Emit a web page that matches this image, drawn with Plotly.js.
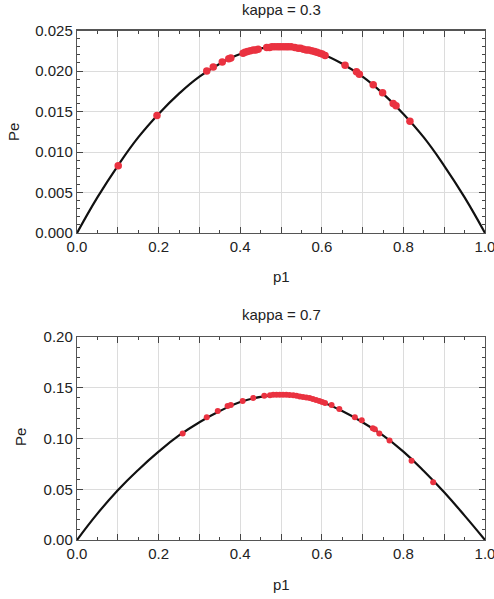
<!DOCTYPE html>
<html>
<head>
<meta charset="utf-8">
<script src="https://cdn.plot.ly/plotly-3.0.1.min.js"></script>
<style>html,body{margin:0;padding:0;background:#fff;}#chart{width:494px;height:599px;}</style>
</head>
<body>
<div id="chart"></div>
<script>
// Curve samples
const p1Curve = [0,0.05,0.1,0.15,0.2,0.25,0.3,0.35,0.4,0.45,0.5,0.55,0.6,0.65,0.7,0.75,0.8,0.85,0.9,0.95,1];
const peCurve03 = [0,0.0044,0.0083,0.0118,0.0147,0.0172,0.0193,0.0209,0.0221,0.0228,0.0230,0.0228,0.0221,0.0209,0.0193,0.0172,0.0147,0.0118,0.0083,0.0044,0];
const peCurve07 = [0,0.026,0.049,0.069,0.087,0.103,0.116,0.127,0.136,0.141,0.143,0.141,0.136,0.127,0.116,0.103,0.087,0.068,0.047,0.024,0];

// Sample points kappa = 0.3
const p1Pts03 = [0.101,0.196,0.318,0.334,0.356,0.372,0.377,0.407,0.412,0.418,0.425,0.432,0.438,0.444,0.465,0.472,0.478,0.485,0.492,0.498,0.505,0.512,0.518,0.525,0.534,0.542,0.548,0.555,0.562,0.568,0.575,0.582,0.588,0.595,0.601,0.608,0.657,0.685,0.692,0.726,0.749,0.775,0.782,0.816];
const pePts03 = [0.0083,0.0145,0.0200,0.0205,0.0211,0.0215,0.0216,0.0222,0.0223,0.0224,0.0225,0.0226,0.0226,0.0227,0.0229,0.0229,0.0230,0.0230,0.0230,0.0230,0.0230,0.0230,0.0230,0.0230,0.0229,0.0228,0.0228,0.0227,0.0226,0.0226,0.0225,0.0224,0.0223,0.0222,0.0221,0.0219,0.0207,0.0199,0.0196,0.0183,0.0173,0.0160,0.0157,0.0138];

// Sample points kappa = 0.7
const p1Pts07 = [0.259,0.318,0.345,0.369,0.377,0.406,0.432,0.459,0.473,0.481,0.489,0.497,0.505,0.513,0.521,0.53,0.538,0.546,0.554,0.562,0.57,0.578,0.586,0.594,0.601,0.608,0.624,0.643,0.681,0.698,0.725,0.73,0.741,0.766,0.82,0.873];
const pePts07 = [0.105,0.121,0.127,0.132,0.133,0.137,0.140,0.142,0.1425,0.143,0.143,0.143,0.143,0.143,0.1428,0.1425,0.142,0.1415,0.141,0.1405,0.140,0.139,0.138,0.137,0.136,0.135,0.133,0.129,0.121,0.118,0.110,0.109,0.105,0.098,0.078,0.057];

const xTickVals = [0,0.1,0.2,0.3,0.4,0.5,0.6,0.7,0.8,0.9,1.0];
const xTickText = ['0.0','','0.2','','0.4','','0.6','','0.8','','1.0'];
const yTickVals03 = [0,0.005,0.01,0.015,0.02,0.025];
const yTickText03 = ['0.000','0.005','0.010','0.015','0.020','0.025'];
const yTickVals07 = [0,0.05,0.1,0.15,0.2];
const yTickText07 = ['0.00','0.05','0.10','0.15','0.20'];
const titles = ['kappa = 0.3','kappa = 0.7'];
const xLabel = 'p1';
const yLabel = 'Pe';

const red = 'rgb(234,50,64)';
const font = {family:'Liberation Sans, Arial, sans-serif', size:15, color:'#222'};

const traces = [
  {x:p1Curve, y:peCurve03, mode:'lines', line:{color:'#111', width:2.2, shape:'spline', smoothing:1.3}, xaxis:'x', yaxis:'y', hoverinfo:'skip'},
  {x:p1Pts03, y:pePts03, mode:'markers', marker:{color:red, size:7.5}, xaxis:'x', yaxis:'y'},
  {x:p1Curve, y:peCurve07, mode:'lines', line:{color:'#111', width:2.2, shape:'spline', smoothing:1.3}, xaxis:'x2', yaxis:'y2', hoverinfo:'skip'},
  {x:p1Pts07, y:pePts07, mode:'markers', marker:{color:red, size:6}, xaxis:'x2', yaxis:'y2'}
];

function xAxis(domAnchor){
  return {
    domain:[77/494, 485/494], anchor:domAnchor, range:[0,1],
    tickmode:'array', tickvals:xTickVals, ticktext:xTickText,
    ticks:'inside', ticklen:6, tickcolor:'#444', tickwidth:1,
    showline:true, linecolor:'#555', linewidth:1.2, mirror:'ticks',
    showgrid:true, gridcolor:'#dcdcdc', gridwidth:1, zeroline:false,
    minor:{dtick:0.05, tick0:0, ticks:'inside', ticklen:3, tickcolor:'#444', showgrid:false},
    tickfont:font, ticklabeloverflow:'allow', fixedrange:true
  };
}
function yAxis(domAnchor, dom, rng, vals, text, minorStep){
  return {
    domain:dom, anchor:domAnchor, range:rng,
    tickmode:'array', tickvals:vals, ticktext:text,
    ticks:'inside', ticklen:6, tickcolor:'#444', tickwidth:1,
    showline:true, linecolor:'#555', linewidth:1.2, mirror:'ticks',
    showgrid:true, gridcolor:'#dcdcdc', gridwidth:1, zeroline:false,
    minor:{dtick:minorStep, tick0:0, ticks:'inside', ticklen:3, tickcolor:'#444', showgrid:false},
    tickfont:font, ticklabeloverflow:'allow', fixedrange:true
  };
}

const layout = {
  width:494, height:599,
  margin:{l:0, r:0, t:0, b:0},
  paper_bgcolor:'#fff', plot_bgcolor:'#fff',
  showlegend:false,
  font:font,
  xaxis:xAxis('y'),
  yaxis:yAxis('x', [1-233/599, 1-30.5/599], [0,0.025], yTickVals03, yTickText03, 0.001),
  xaxis2:xAxis('y2'),
  yaxis2:yAxis('x2', [1-540/599, 1-337/599], [0,0.2], yTickVals07, yTickText07, 0.01),
  annotations:[
    {text:titles[0], x:281/494, y:1-9/599, xref:'paper', yref:'paper', showarrow:false, xanchor:'center', yanchor:'middle', font:font},
    {text:titles[1], x:281/494, y:1-314/599, xref:'paper', yref:'paper', showarrow:false, xanchor:'center', yanchor:'middle', font:font},
    {text:xLabel, x:281/494, y:1-277/599, xref:'paper', yref:'paper', showarrow:false, xanchor:'center', yanchor:'middle', font:font},
    {text:xLabel, x:281/494, y:1-584/599, xref:'paper', yref:'paper', showarrow:false, xanchor:'center', yanchor:'middle', font:font},
    {text:yLabel, x:13/494, y:1-132/599, xref:'paper', yref:'paper', showarrow:false, xanchor:'center', yanchor:'middle', textangle:-90, font:font},
    {text:yLabel, x:20/494, y:1-437/599, xref:'paper', yref:'paper', showarrow:false, xanchor:'center', yanchor:'middle', textangle:-90, font:font}
  ]
};

Plotly.newPlot('chart', traces, layout, {staticPlot:true, displayModeBar:false});
</script>
</body>
</html>
